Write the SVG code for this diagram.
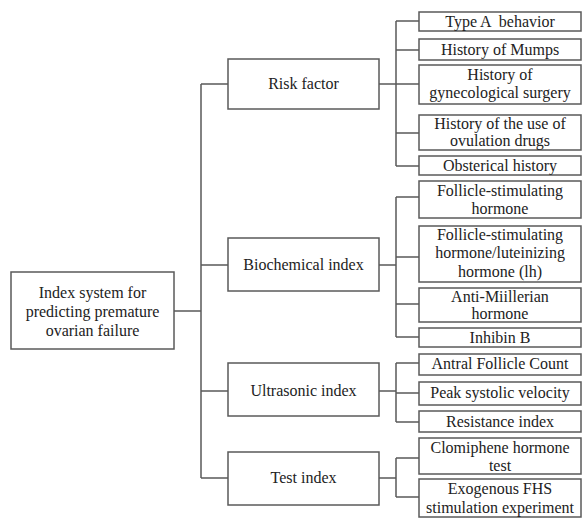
<svg xmlns="http://www.w3.org/2000/svg" width="583" height="518" viewBox="0 0 583 518">
<style>
rect{fill:#fff;stroke:#5a5a5a;stroke-width:1.5}
.c path{fill:none;stroke:#5a5a5a;stroke-width:1.5}
.t text{font-size:16px;fill:#222;text-anchor:middle}
</style>
<rect x="0" y="0" width="583" height="518" style="stroke:none"/>
<g class="c" id="connectors">
<path d="M174 311H201M201 84V478M201 84H228M201 265H228M201 391H228M201 478H228"/>
<path d="M379 84H396M396 21V166M396 21H419M396 50H419M396 84H419M396 133H419M396 166H419"/>
<path d="M379 265H396M396 197V337M396 197H419M396 257H419M396 304H419M396 337H419"/>
<path d="M379 391H396M396 363V422M396 363H419M396 393H419M396 422H419"/>
<path d="M379 478H396M396 458V497M396 458H419M396 497H419"/>
</g>
<g class="t" font-family="'Liberation Serif', 'DejaVu Serif', serif">
<g id="root"><rect x="11" y="272" width="163" height="77"/><text x="92.5" y="298">Index system for</text><text x="92.5" y="317">predicting premature</text><text x="92.5" y="336">ovarian failure</text></g>
<g id="risk"><rect x="228" y="59" width="151" height="50"/><text x="303.5" y="89">Risk factor</text></g>
<g id="biochem"><rect x="228" y="238" width="151" height="53"/><text x="303.5" y="270">Biochemical index</text></g>
<g id="ultra"><rect x="228" y="363" width="151" height="53"/><text x="303.5" y="396">Ultrasonic index</text></g>
<g id="test"><rect x="228" y="452" width="151" height="53"/><text x="303.5" y="483">Test index</text></g>
<g id="leaf1"><rect x="419" y="12" width="162" height="19"/><text x="500" y="26.5" xml:space="preserve">Type A  behavior</text></g>
<g id="leaf2"><rect x="419" y="39" width="162" height="21"/><text x="500" y="55">History of Mumps</text></g>
<g id="leaf3"><rect x="419" y="65" width="162" height="39"/><text x="500" y="80">History of</text><text x="500" y="98">gynecological surgery</text></g>
<g id="leaf4"><rect x="419" y="115" width="162" height="35"/><text x="500" y="129">History of the use of</text><text x="500" y="146">ovulation drugs</text></g>
<g id="leaf5"><rect x="419" y="156" width="162" height="19"/><text x="500" y="171">Obsterical history</text></g>
<g id="leaf6"><rect x="419" y="181" width="162" height="37"/><text x="500" y="196">Follicle-stimulating</text><text x="500" y="214">hormone</text></g>
<g id="leaf7"><rect x="419" y="226" width="162" height="56"/><text x="500" y="240">Follicle-stimulating</text><text x="500" y="258">hormone/luteinizing</text><text x="500" y="277">hormone (lh)</text></g>
<g id="leaf8"><rect x="419" y="288" width="162" height="34"/><text x="500" y="302">Anti-Miillerian</text><text x="500" y="319">hormone</text></g>
<g id="leaf9"><rect x="419" y="328" width="162" height="19"/><text x="500" y="343">Inhibin B</text></g>
<g id="leaf10"><rect x="419" y="354" width="162" height="21"/><text x="500" y="369">Antral Follicle Count</text></g>
<g id="leaf11"><rect x="419" y="382" width="162" height="23"/><text x="500" y="398">Peak systolic velocity</text></g>
<g id="leaf12"><rect x="419" y="411" width="162" height="21"/><text x="500" y="427">Resistance index</text></g>
<g id="leaf13"><rect x="419" y="438" width="162" height="36"/><text x="500" y="453">Clomiphene hormone</text><text x="500" y="471">test</text></g>
<g id="leaf14"><rect x="419" y="479" width="162" height="38"/><text x="500" y="494">Exogenous FHS</text><text x="500" y="513">stimulation experiment</text></g>
</g>
</svg>
